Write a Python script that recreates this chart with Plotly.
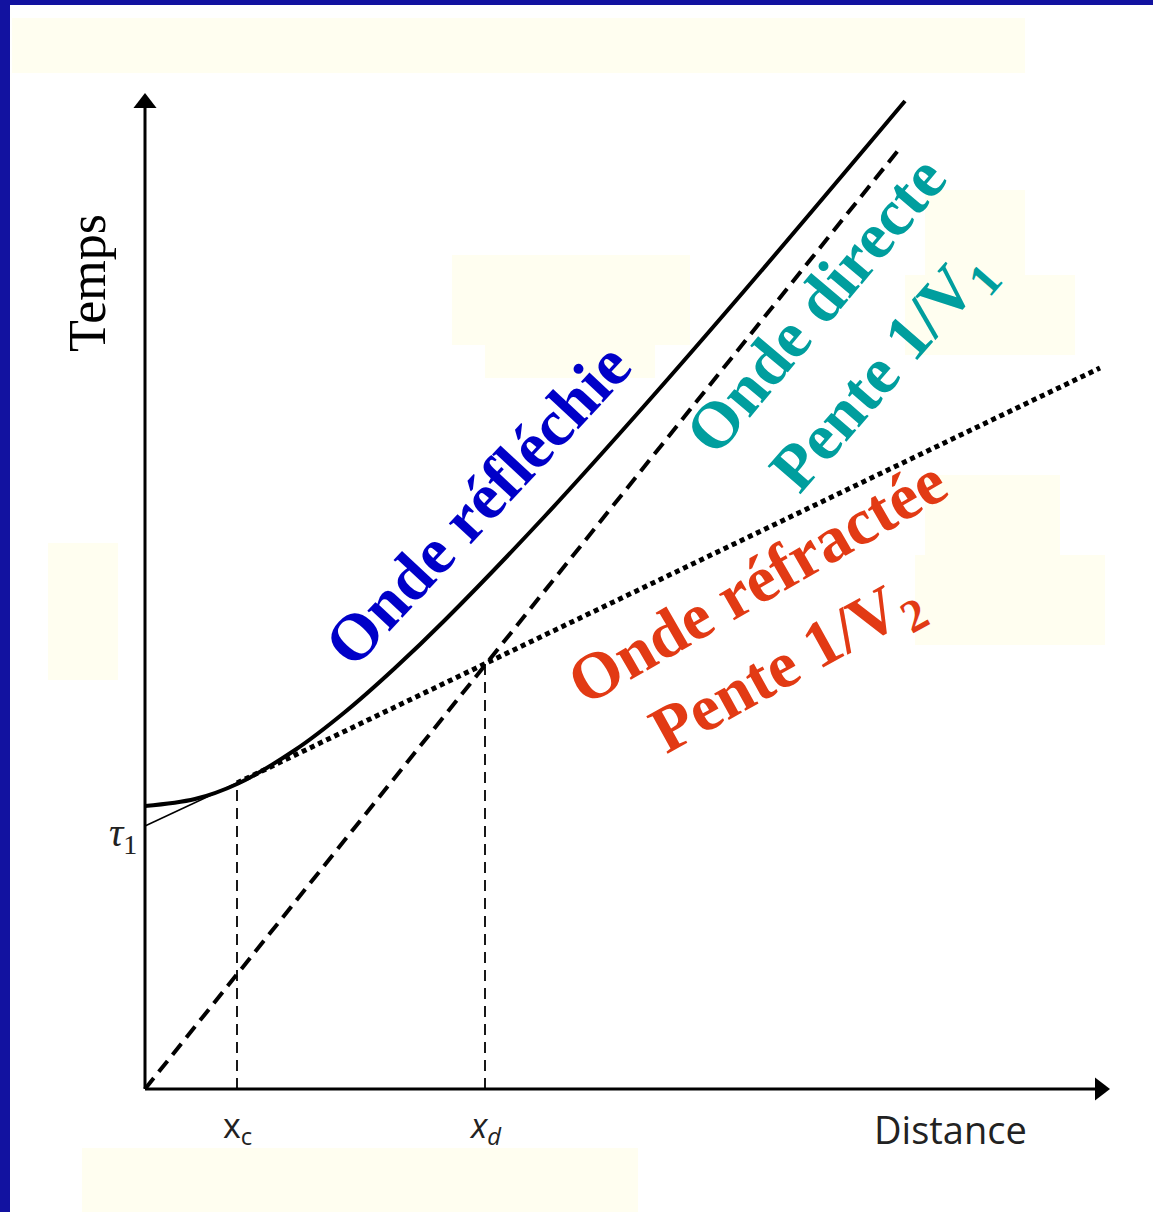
import plotly.graph_objects as go

W, H = 1153, 1212

# ---- data (schematic units) ----
tau1 = 2.63
x_c = 0.92
x_d = 3.40
direct_x = [0.0, 7.55]
direct_t = [0.0, 9.41]
refr_x = [0.92, 9.55]
refr_t = [3.06, 7.21]
refr_thin_x = [0.0, 0.92]
refr_thin_t = [2.63, 3.06]
refl_x = [0.0, 0.5, 0.92, 1.5, 2.0, 2.5, 3.0, 4.0, 5.0, 6.0, 7.6]
refl_t = [2.83, 2.90, 3.05, 3.39, 3.77, 4.21, 4.69, 5.73, 6.84, 7.99, 9.88]
xd_t = 4.25
xc_t = 3.06
x_axis_end = 9.65
y_axis_end = 9.96

# axis ranges chosen so that origin sits at pixel (145,1089)
X0, X1 = -1.45, (W - 145) / 100
Y0, Y1 = (1089 - H) / 100, 10.89

fig = go.Figure()

def line(x, y, width, dash="solid", color="black"):
    fig.add_trace(go.Scatter(x=x, y=y, mode="lines", hoverinfo="skip",
                             line=dict(color=color, width=width, dash=dash)))

# axes
line([0, 0], [0, y_axis_end - 0.15], 3)
line([0, x_axis_end - 0.15], [0, 0], 3)
fig.add_trace(go.Scatter(x=[0], y=[y_axis_end - 0.1], mode="markers", hoverinfo="skip",
                         marker=dict(symbol="triangle-up", size=20, color="black")))
fig.add_trace(go.Scatter(x=[x_axis_end - 0.1], y=[0], mode="markers", hoverinfo="skip",
                         marker=dict(symbol="triangle-right", size=20, color="black")))

# vertical guides
line([x_c, x_c], [0, xc_t], 1.8, dash="11px,7px")
line([x_d, x_d], [0, xd_t], 1.8, dash="11px,7px")

# direct wave
line(direct_x, direct_t, 4, dash="14px,8px")
# refracted wave
line(refr_thin_x, refr_thin_t, 1.5)
line(refr_x, refr_t, 5, dash="5px,4px")
# reflected wave
fig.add_trace(go.Scatter(x=refl_x, y=refl_t, mode="lines", hoverinfo="skip",
                         line=dict(color="black", width=4, shape="spline")))

# faint background boxes (paper pixel coords)
boxes = [(12, 18, 1025, 73), (48, 543, 118, 680), (82, 1148, 638, 1212),
         (452, 255, 690, 345), (485, 345, 655, 378),
         (925, 190, 1025, 275), (905, 275, 1075, 355),
         (925, 475, 1060, 555), (915, 555, 1105, 645)]
shapes = []
for (a, b, c, d) in boxes:
    shapes.append(dict(type="rect", xref="paper", yref="paper", layer="below",
                       x0=a / W, x1=c / W, y0=1 - d / H, y1=1 - b / H,
                       fillcolor="#FFFEF0", line=dict(width=0)))
# blue slide border (top and left)
shapes.append(dict(type="rect", xref="paper", yref="paper", x0=0, x1=1,
                   y0=1 - 5 / H, y1=1, fillcolor="#1212A0", line=dict(width=0)))
shapes.append(dict(type="rect", xref="paper", yref="paper", x0=0, x1=10 / W,
                   y0=0, y1=1, fillcolor="#1212A0", line=dict(width=0)))

serif = "Liberation Serif, Times New Roman, serif"
sans = "Open Sans, DejaVu Sans, sans-serif"
ann = []
def text(x, y, s, size, color="black", family=serif, angle=0, xref="x", yref="y"):
    ann.append(dict(x=x, y=y, xref=xref, yref=yref, text=s, showarrow=False,
                    textangle=angle, font=dict(size=size, color=color, family=family),
                    xanchor="center", yanchor="middle"))

text(-0.58, 8.06, "Temps", 52, angle=-90)
text(8.05, -0.40, "Distance", 38, color="#222222", family=sans)
text(x_c, -0.38, "x<sub>c</sub>", 34, color="#222222", family=sans)
text(x_d, -0.38, "<i>x<sub>d</sub></i>", 34, color="#222222", family=sans)
text(-0.22, 2.54, "<i>τ</i><sub>1</sub>", 40, color="#222222", family=serif)

text(3.32, 5.85, "<b>Onde réfléchie</b>", 66, color="#0000C8", angle=-47)
text(6.70, 7.85, "<b>Onde directe</b>", 66, color="#009E9E", angle=-50)
text(7.38, 7.17, "<b>Pente 1/V<sub>1</sub></b>", 66, color="#009E9E", angle=-49)
text(6.11, 5.08, "<b>Onde réfractée</b>", 66, color="#E23A14", angle=-30)
text(6.42, 4.22, "<b>Pente 1/V<sub>2</sub></b>", 66, color="#E23A14", angle=-29)

fig.update_layout(width=W, height=H, margin=dict(l=0, r=0, t=0, b=0),
                  plot_bgcolor="white", paper_bgcolor="white", showlegend=False,
                  shapes=shapes, annotations=ann,
                  xaxis=dict(range=[X0, X1], visible=False, fixedrange=True),
                  yaxis=dict(range=[Y0, Y1], visible=False, fixedrange=True))
fig.write_html("out.html", config={"displayModeBar": False})
